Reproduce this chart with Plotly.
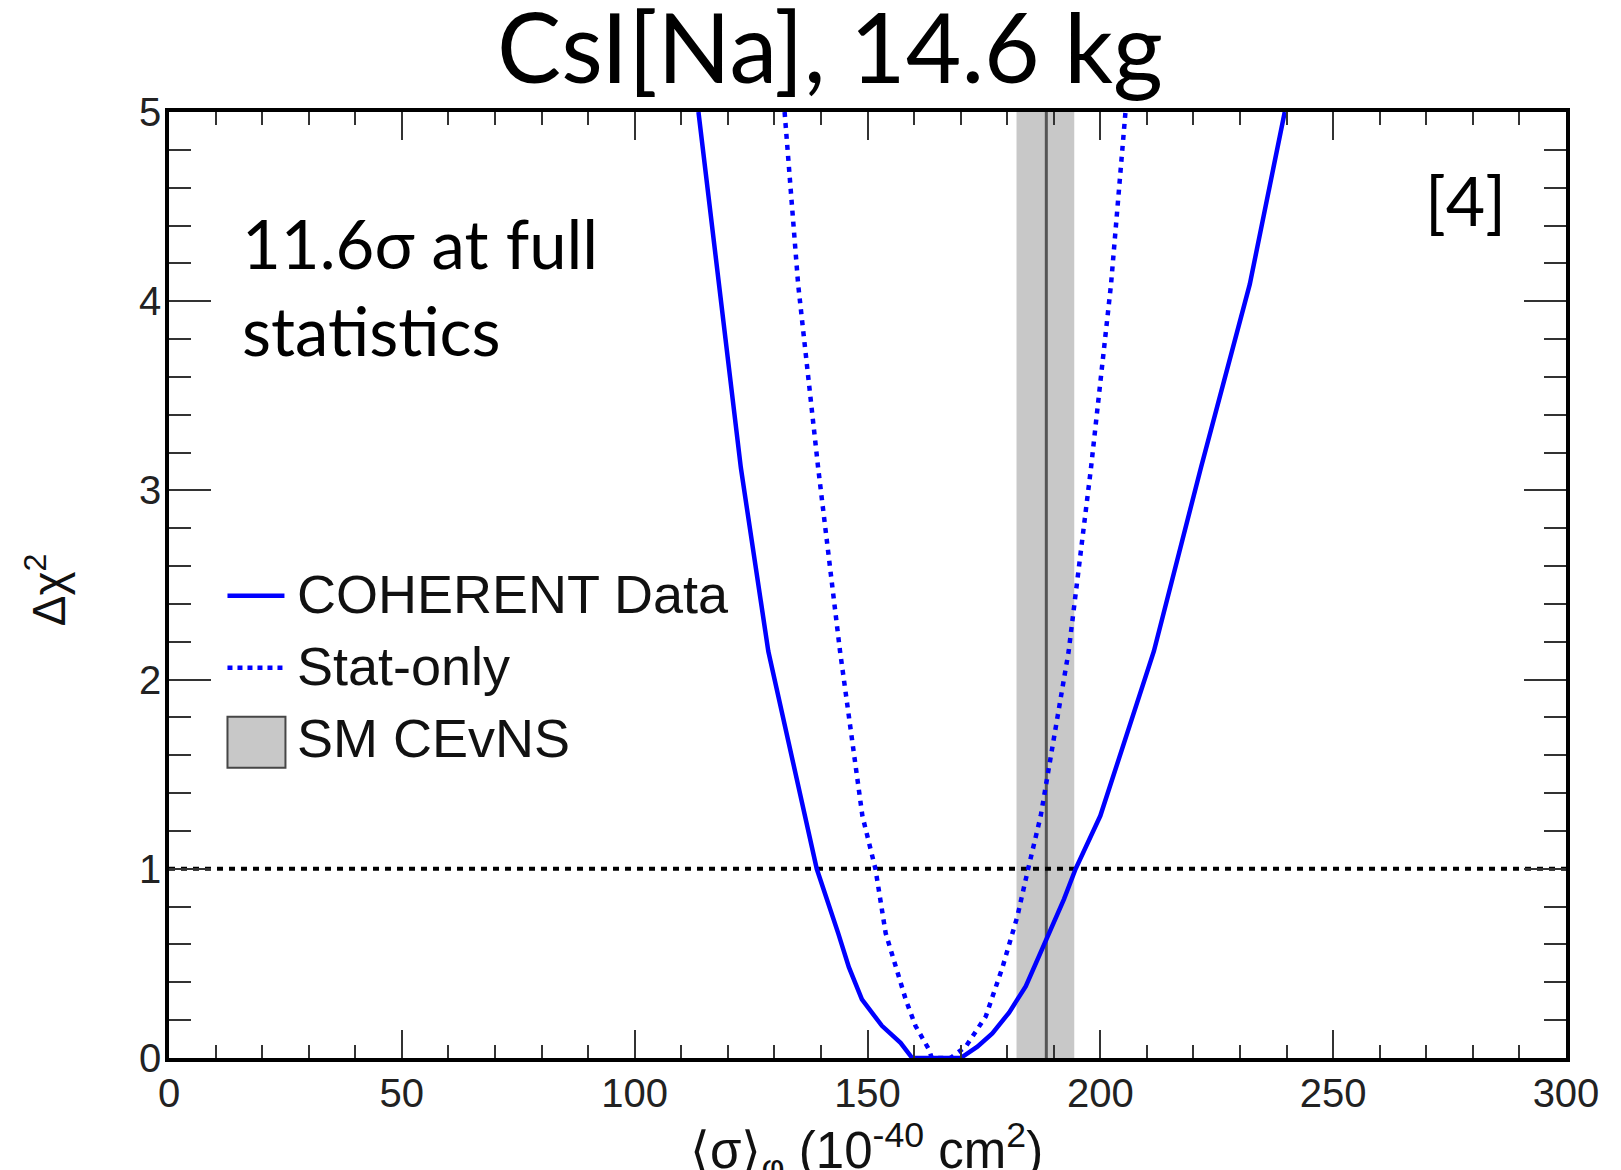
import plotly.graph_objects as go

# ---------------- data ----------------
coherent_x = [113.7, 118.1, 122.8, 128.7, 136.6, 139.1, 143.7, 146.0, 148.8, 153.1, 157.1, 159.6,
              170.0, 173.6, 176.8, 180.4, 184.0, 188.6, 192.2, 194.7, 200.0, 211.5, 221.6, 232.1, 239.6]
coherent_y = [5.0, 4.09, 3.12, 2.15, 1.28, 1.0, 0.66, 0.48, 0.31, 0.17, 0.08, 0.0,
              0.0, 0.06, 0.13, 0.24, 0.38, 0.63, 0.84, 1.0, 1.28, 2.15, 3.12, 4.09, 5.0]

statonly_x = [132.2, 135.1, 139.4, 144.1, 148.9, 151.7, 153.9, 156.0, 158.2, 160.3, 163.2, 163.8,
              167.8, 171.1, 175.4, 179.0, 182.2, 184.5, 187.2, 193.2, 198.0, 202.3, 205.4]
statonly_y = [5.0, 4.09, 3.12, 2.15, 1.28, 1.0, 0.66, 0.48, 0.31, 0.17, 0.045, 0.0,
              0.0, 0.06, 0.22, 0.48, 0.75, 1.0, 1.28, 2.15, 3.12, 4.09, 5.0]

sm_band = [182.0, 194.4]
sm_central = 188.4
one_sigma_level = 1.0

x_range = [0, 300]
y_range = [0, 5]
x_ticks = [0, 50, 100, 150, 200, 250, 300]
y_ticks = [0, 1, 2, 3, 4, 5]

title_text = "CsI[Na], 14.6 kg"
note_text = "11.6σ at full<br>statistics"
ref_text = "[4]"
legend_labels = ["COHERENT Data", "Stat-only", "SM CEvNS"]

# ---------------- layout geometry (window pixels) ----------------
OFF = 8  # default page body margin
W, H = 1621 - OFF, 1170 - OFF
L, R, T, B = 168.5, 1566.0, 112.0, 1058.5


def px(X):
    return (X - L) / (R - L)


def py(Y):
    return (B - Y) / (B - T)


BLUE = "rgb(0,0,255)"
GRAY = "rgb(200,200,200)"

fig = go.Figure()

# SM band
fig.add_trace(go.Scatter(
    x=[sm_band[0], sm_band[1], sm_band[1], sm_band[0], sm_band[0]],
    y=[y_range[0], y_range[0], y_range[1], y_range[1], y_range[0]],
    fill="toself", fillcolor=GRAY, line=dict(width=0), mode="lines",
    showlegend=False, hoverinfo="skip"))
fig.add_trace(go.Scatter(
    x=[sm_central, sm_central], y=y_range, mode="lines",
    line=dict(color="rgb(85,85,85)", width=3), showlegend=False, hoverinfo="skip"))

# delta chi2 = 1 line
fig.add_trace(go.Scatter(
    x=x_range, y=[one_sigma_level, one_sigma_level], mode="lines",
    line=dict(color="black", width=4, dash="6px,6px"), showlegend=False, hoverinfo="skip"))

# curves
fig.add_trace(go.Scatter(
    x=statonly_x, y=statonly_y, mode="lines",
    line=dict(color=BLUE, width=4.5, dash="5px,6px"), name=legend_labels[1], showlegend=False))
fig.add_trace(go.Scatter(
    x=coherent_x, y=coherent_y, mode="lines",
    line=dict(color=BLUE, width=4.5), name=legend_labels[0], showlegend=False))

tick_font = dict(family="Liberation Sans, Arial, sans-serif", size=40, color="#222")

fig.update_xaxes(
    range=x_range, tickvals=x_ticks, ticktext=[str(v) for v in x_ticks],
    showline=True, linewidth=3.5, linecolor="black", mirror="allticks",
    ticks="inside", ticklen=28, tickwidth=2, tickcolor="#333", ticklabelstandoff=-3,
    minor=dict(ticks="inside", ticklen=13, dtick=10, tickwidth=2, tickcolor="#333", showgrid=False),
    showgrid=False, zeroline=False, tickfont=tick_font)
fig.update_yaxes(
    range=y_range, tickvals=y_ticks, ticktext=[str(v) for v in y_ticks],
    showline=True, linewidth=3.5, linecolor="black", mirror="allticks",
    ticks="inside", ticklen=42, tickwidth=2, tickcolor="#333", ticklabelstandoff=-4,
    minor=dict(ticks="inside", ticklen=22, dtick=0.2, tickwidth=2, tickcolor="#333", showgrid=False),
    showgrid=False, zeroline=False, tickfont=tick_font)

shapes = []
annotations = []

# manual legend
shapes.append(dict(type="line", xref="paper", yref="paper",
                   x0=px(227), x1=px(284), y0=py(596), y1=py(596),
                   line=dict(color=BLUE, width=4.5)))
shapes.append(dict(type="line", xref="paper", yref="paper",
                   x0=px(227), x1=px(282), y0=py(668), y1=py(668),
                   line=dict(color=BLUE, width=4.5, dash="5px,5px")))
shapes.append(dict(type="rect", xref="paper", yref="paper",
                   x0=px(227), x1=px(285), y0=py(768), y1=py(717),
                   fillcolor=GRAY, line=dict(color="rgb(70,70,70)", width=2)))
leg_font = dict(family="Liberation Sans, Arial, sans-serif", size=54, color="#111")
for lbl, yc in zip(legend_labels, [594, 666, 738]):
    annotations.append(dict(text=lbl, xref="paper", yref="paper", x=px(295), y=py(yc),
                            xanchor="left", yanchor="middle", showarrow=False, font=leg_font))

# title
annotations.append(dict(text=title_text, xref="paper", yref="paper", x=px(830), y=py(45),
                        xanchor="center", yanchor="middle", showarrow=False,
                        font=dict(family="Lato, sans-serif", size=96, color="black")))
# note
annotations.append(dict(text=note_text, xref="paper", yref="paper", x=px(240), y=py(287),
                        xanchor="left", yanchor="middle", align="left", showarrow=False,
                        font=dict(family="Lato, sans-serif", size=67, color="black")))
# reference tag
annotations.append(dict(text=ref_text, xref="paper", yref="paper", x=px(1465), y=py(200),
                        xanchor="center", yanchor="middle", showarrow=False,
                        font=dict(family="Lato, sans-serif", size=68, color="black")))
# axis titles
annotations.append(dict(text="⟨σ⟩<sub>φ</sub> (10<sup>-40</sup> cm<sup>2</sup>)",
                        xref="paper", yref="paper", x=px(866), y=py(1152),
                        xanchor="center", yanchor="middle", showarrow=False,
                        font=dict(family="Liberation Sans, Arial, sans-serif", size=51, color="#111")))
annotations.append(dict(text="Δχ<sup>2</sup>", xref="paper", yref="paper", x=px(45), y=py(590),
                        xanchor="center", yanchor="middle", textangle=-90, showarrow=False,
                        font=dict(family="Liberation Sans, Arial, sans-serif", size=46, color="#111")))

fig.update_layout(
    width=W, height=H,
    margin=dict(l=L - OFF, r=1621 - R, t=T - OFF, b=1170 - B),
    paper_bgcolor="white", plot_bgcolor="white",
    showlegend=False, shapes=shapes, annotations=annotations)

fig.write_html("out.html")
